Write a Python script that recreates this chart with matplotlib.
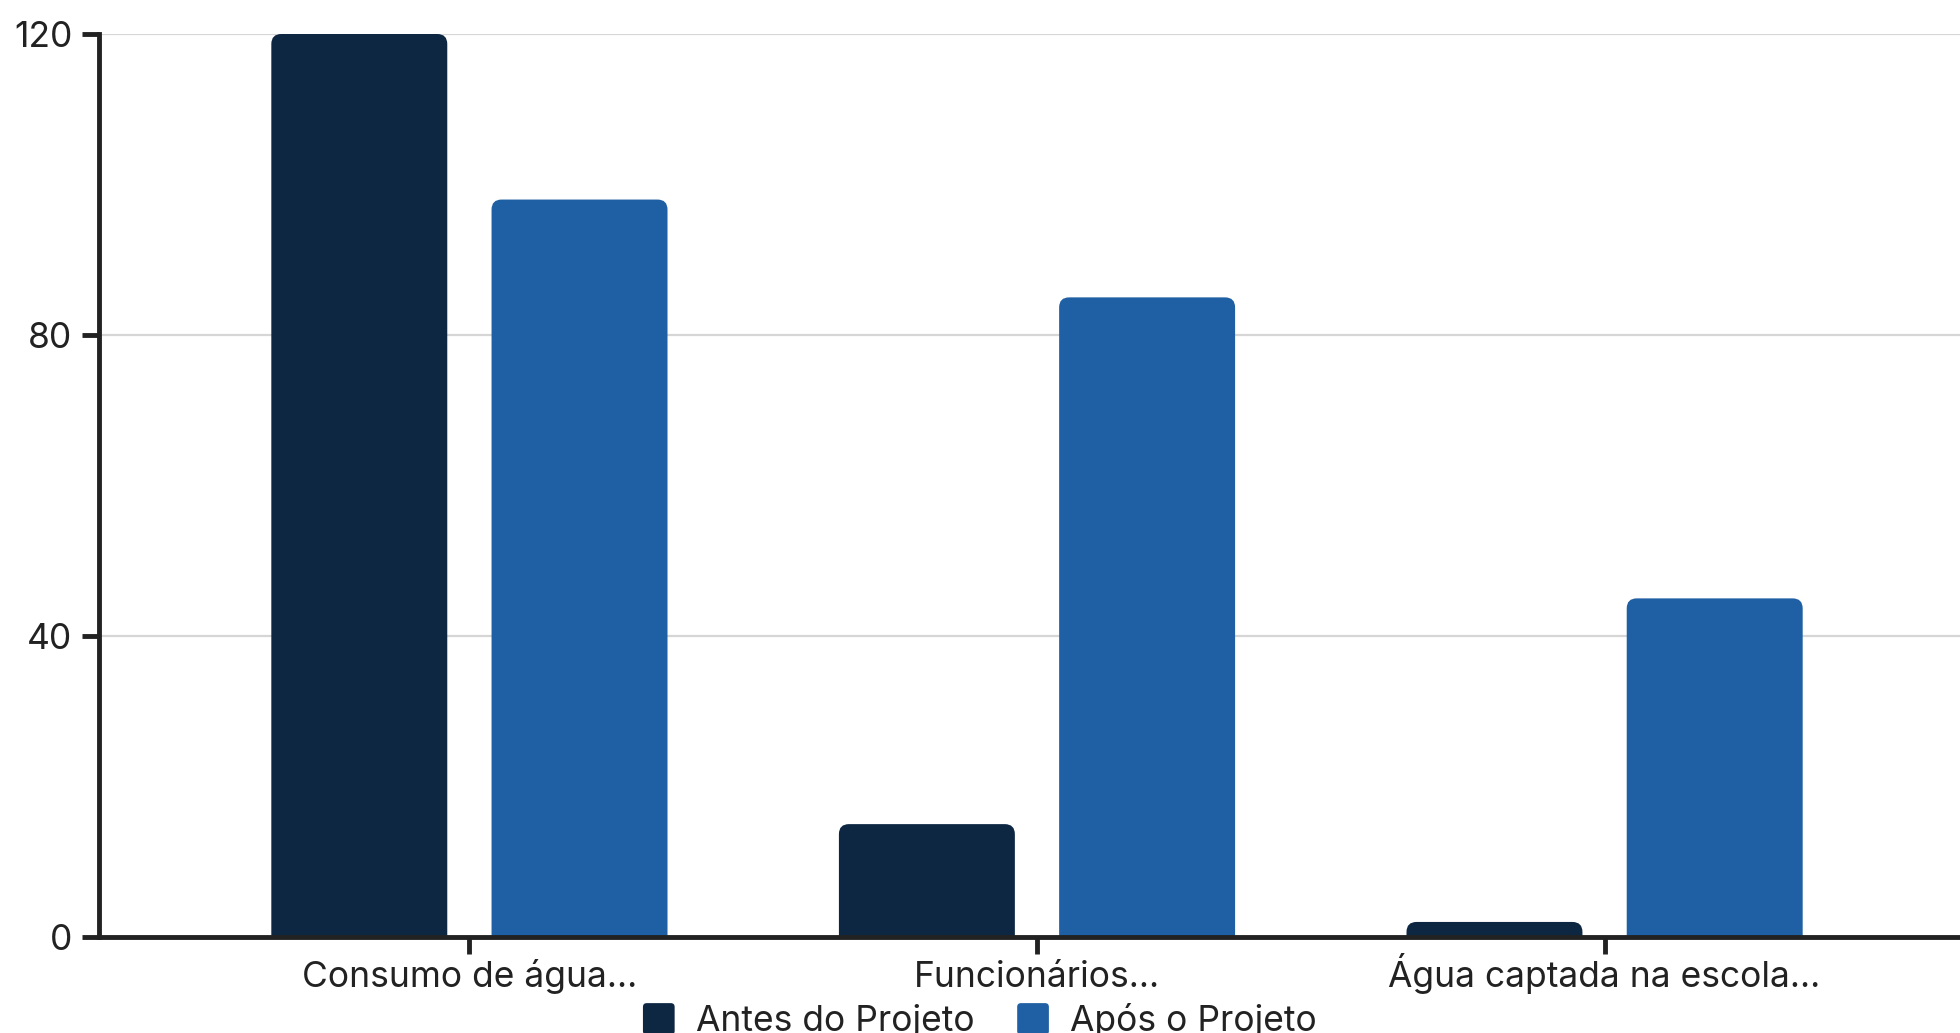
import matplotlib
matplotlib.use("Agg")
import matplotlib.pyplot as plt
from matplotlib.patches import FancyBboxPatch
from matplotlib.legend_handler import HandlerPatch
import numpy as np

categories = ["Consumo de água...", "Funcionários...", "Água captada na escola..."]
series_names = ["Antes do Projeto", "Após o Projeto"]
antes = [120, 15, 2]
apos = [98, 85, 45]
yticks = [0, 40, 80, 120]
colors = ["#0d2642", "#1f5fa3"]

plt.rcParams['font.family'] = ['Inter', 'DejaVu Sans']
W, H, DPI = 1960, 1033, 100
fig = plt.figure(figsize=(W / DPI, H / DPI), dpi=DPI)
left_px, right_px, top_px, bot_px = 99, 1975, 34, 937
ax = fig.add_axes([left_px / W, 1 - bot_px / H, (right_px - left_px) / W, (bot_px - top_px) / H])

x = np.arange(len(categories))
outer = 0.6526
ax.set_xlim(-outer, len(categories) - 1 + outer)
ax.set_ylim(0, 120)

bw = 0.31
off = 0.194
px_per_x = (right_px - left_px) / (len(categories) - 1 + 2 * outer)
px_per_y = (bot_px - top_px) / 120.0
r_px = 10
rx = r_px / px_per_x
aspect = px_per_x / px_per_y

for i, (vals, col) in enumerate(zip([antes, apos], colors)):
    bars = ax.bar(x + (i - 0.5) * 2 * off, vals, width=bw, color=col)
    for rect in bars:
        rect.set_visible(False)
        bx, by = rect.get_x(), rect.get_y()
        w, h = rect.get_width(), rect.get_height()
        ry = rx * aspect
        p = FancyBboxPatch((bx, by - ry), w, h + ry,
                           boxstyle=f"round,pad=0,rounding_size={rx}",
                           mutation_aspect=aspect, facecolor=col, edgecolor='none',
                           zorder=2)
        ax.add_patch(p)

FS = 25.5
ax.set_yticks(yticks)
ax.set_xticks(x)
ax.set_xticklabels(categories)
ax.yaxis.grid(True, color="#d6d6d6", linewidth=1.6, zorder=0)
ax.set_axisbelow(True)
for s in ['top', 'right']:
    ax.spines[s].set_visible(False)
for s in ['left', 'bottom']:
    ax.spines[s].set_linewidth(3.5)
    ax.spines[s].set_color("#222222")
    ax.spines[s].set_zorder(3)
ax.tick_params(axis='both', length=12, width=3.5, color="#222222",
               labelsize=FS, labelcolor="#222222", pad=7)
ax.tick_params(axis='x', pad=24)
for lab in ax.get_xticklabels():
    lab.set_verticalalignment('baseline')


class RoundHandler(HandlerPatch):
    def create_artists(self, legend, orig_handle, xdescent, ydescent, width, height, fontsize, trans):
        s = min(width, height)
        p = FancyBboxPatch((-xdescent, -ydescent + (height - s) / 2), s, s,
                           boxstyle=f"round,pad=0,rounding_size={s*0.12}",
                           facecolor=orig_handle.get_facecolor(), edgecolor='none',
                           transform=trans)
        return [p]


handles = [plt.Rectangle((0, 0), 1, 1, facecolor=c) for c in colors]
fig.legend(handles, series_names, loc='center', bbox_to_anchor=(0.5, 0.012), ncol=2,
           frameon=False, fontsize=FS, handlelength=1.0, handleheight=1.0,
           handletextpad=0.5, columnspacing=1.2, labelcolor="#222222",
           handler_map={plt.Rectangle: RoundHandler()})

fig.savefig("out.png", dpi=DPI)
